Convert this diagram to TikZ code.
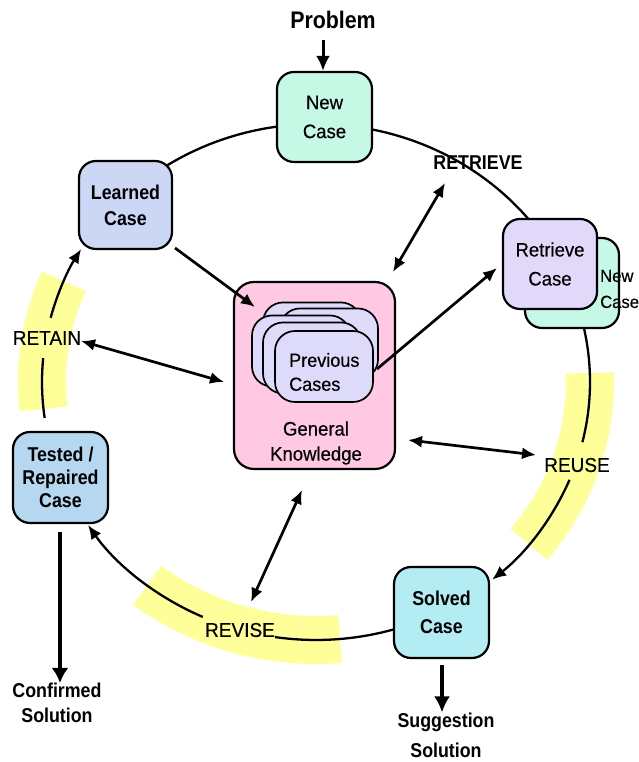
\documentclass[tikz,border=0pt]{standalone}
\usepackage{fontspec}
\setmainfont{Liberation Sans}[UprightFeatures={FakeStretch=0.95,FakeBold=0.4}, BoldFeatures={FakeStretch=0.89}]
\usetikzlibrary{arrows.meta,calc}
\definecolor{mintc}{RGB}{198,248,230}
\definecolor{learnc}{RGB}{204,214,245}
\definecolor{retrc}{RGB}{226,216,250}
\definecolor{cardc}{RGB}{222,218,250}
\definecolor{pinkc}{RGB}{255,201,227}
\definecolor{testc}{RGB}{181,215,240}
\definecolor{solvc}{RGB}{179,236,242}
\definecolor{bandc}{RGB}{255,255,153}
\begin{document}
\begin{tikzpicture}[x=1pt,y=1pt,
  casebox/.style={draw, line width=2.2pt, rounded corners=17pt, minimum width=95pt, minimum height=90pt, align=center, inner sep=0pt, font=\fontsize{19.5}{29}\selectfont},
  card/.style={draw, line width=1.7pt, fill=cardc, rounded corners=20pt, minimum width=98pt, minimum height=71pt},
  cyc/.style={line width=2.3pt},
  tip/.style={-{Latex[length=14pt,width=12pt]}},
  arr/.style={line width=2.7pt, -{Latex[length=14pt,width=12pt]}},
  darr/.style={line width=2.7pt, {Latex[length=14pt,width=12pt]}-{Latex[length=14pt,width=12pt]}},
  band/.style={line width=48pt, color=bandc},
  lab/.style={font=\fontsize{20}{24}\selectfont, inner sep=0pt},
  blab/.style={font=\bfseries\fontsize{20}{25}\selectfont, align=center, inner sep=0pt},
]
\useasboundingbox (0,0) rectangle (639,762);
\coordinate (C) at (316,380);
% yellow bands
\draw[band] ($(C)+(157:274 and 258)$) arc[start angle=157,end angle=186,x radius=274,y radius=258];
\draw[band] ($(C)+(2:274 and 258)$) arc[start angle=2,end angle=-39,x radius=274,y radius=258];
\draw[band] ($(C)+(-128:274 and 258)$) arc[start angle=-128,end angle=-85,x radius=274,y radius=258];
% cycle arcs
\draw[cyc] ($(C)+(90:274 and 258)$) arc[start angle=90,end angle=135,x radius=274,y radius=258];
\draw[cyc] ($(C)+(90:274 and 258)$) arc[start angle=90,end angle=35,x radius=274,y radius=258];
\draw[cyc] ($(C)+(15:274 and 258)$) arc[start angle=15,end angle=-13.5,x radius=274,y radius=258];
\draw[cyc,tip] ($(C)+(-22.3:274 and 258)$) arc[start angle=-22.3,end angle=-50,x radius=274,y radius=258];
\draw[cyc] ($(C)+(-70:274 and 258)$) arc[start angle=-70,end angle=-98.6,x radius=274,y radius=258];
\draw[cyc,tip] ($(C)+(-114.4:274 and 258)$) arc[start angle=-114.4,end angle=-146.3,x radius=274,y radius=258];
\draw[cyc] ($(C)+(-172:274 and 258)$) arc[start angle=-172,end angle=-185.3,x radius=274,y radius=258];
\draw[cyc,tip] ($(C)+(-194.4:274 and 258)$) arc[start angle=-194.4,end angle=-211,x radius=274,y radius=258];
% boxes
\node[casebox, fill=mintc] (NewCase) at (324.5,645) {New\\Case};
\node[casebox, fill=learnc, font=\bfseries\fontsize{20}{26}\selectfont, minimum width=93pt, minimum height=88pt] (Learned) at (125.5,557) {Learned\\Case};
\node[casebox, fill=mintc, minimum width=94pt] (RetrBack) at (572,479) {};
\node[casebox, fill=retrc, minimum width=94pt] (Retrieve) at (550,498) {Retrieve\\Case};
\node[anchor=west, align=left, font=\fontsize{17.5}{26}\selectfont, inner sep=0pt] (RetrBackText) at (600,473) {New\\Case};
\node[draw, line width=2.2pt, rounded corners=20pt, fill=pinkc, minimum width=161pt, minimum height=187pt] (GK) at (314.5,386.5) {};
\node[align=center, font=\fontsize{19.5}{25}\selectfont, inner sep=0pt] (GKText) at (316,319) {General\\Knowledge};
\node[card] (cA) at (312,424) {};
\node[card] (cB) at (329,418) {};
\node[card] (cC) at (301,411) {};
\node[card] (cD) at (312,404) {};
\node[card] (cE) at (324,395.5) {};
\node[anchor=west, align=left, font=\fontsize{19}{24}\selectfont, inner sep=0pt] (PrevText) at (289,390) {Previous\\Cases};
\node[casebox, fill=testc, font=\bfseries\fontsize{20}{23}\selectfont, minimum height=91pt] (Tested) at (60.5,284.5) {Tested /\\Repaired\\Case};
\node[casebox, fill=solvc, font=\bfseries\fontsize{20}{28}\selectfont, minimum height=91pt] (Solved) at (441.5,149.5) {Solved\\Case};
% labels
\node[blab, font=\bfseries\fontsize{24}{28}\selectfont] (Problem) at (333,742) {Problem};
\node[blab] (Confirmed) at (57,59) {Confirmed\\Solution};
\node[blab, font=\bfseries\fontsize{20}{30}\selectfont] (Suggestion) at (446,27) {Suggestion\\Solution};
\node[blab] (RETRIEVE) at (478,599) {RETRIEVE};
\node[lab] (RETAIN) at (47,424) {RETAIN};
\node[lab] (REUSE) at (577,297) {REUSE};
\node[lab] (REVISE) at (240,132) {REVISE};
% arrows
\coordinate (pA) at (323,722);
\draw[line width=3pt, -{Latex[length=15pt,width=14pt]}] (pA) -- (pA |- NewCase.north);
\coordinate (lOut) at (175,514);
\coordinate (sIn) at (255,455);
\draw[arr] (lOut) -- (sIn);
\coordinate (pOut) at (377,393);
\coordinate (rIn) at (497,494);
\draw[arr] (pOut) -- (rIn);
\coordinate (rtA) at (445,579);
\coordinate (rtB) at (393,490);
\draw[darr] (rtA) -- (rtB);
\coordinate (raA) at (81,421);
\coordinate (raB) at (224,380);
\draw[darr] (raA) -- (raB);
\coordinate (ruA) at (408,322);
\coordinate (ruB) at (536,307);
\draw[darr] (ruA) -- (ruB);
\coordinate (rvA) at (302,272);
\coordinate (rvB) at (251,160);
\draw[darr] (rvA) -- (rvB);
\coordinate (sOut) at (442,97);
\draw[line width=3.6pt, -{Latex[length=16pt,width=16pt]}] (sOut) -- (sOut |- Suggestion.north);
\coordinate (tOut) at (60,230);
\draw[line width=3.4pt, -{Latex[length=15pt,width=17pt]}] (tOut) -- (tOut |- Confirmed.north);
\end{tikzpicture}
\end{document}
